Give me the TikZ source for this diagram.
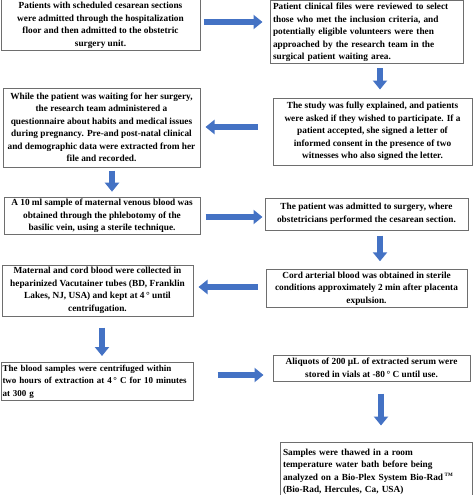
\documentclass[tikz,border=0pt]{standalone}
\usepackage{fontspec}
\setmainfont{Liberation Serif}
\usetikzlibrary{arrows.meta,calc}
\definecolor{arrowblue}{HTML}{4472C4}
\definecolor{boxline}{HTML}{6E6E6E}
\begin{document}
\begin{tikzpicture}[x=1pt,y=-1pt,
  box/.style={draw=boxline, line width=1pt, fill=white, inner sep=2pt,
    font=\fontsize{9.3}{12.5}\selectfont\bfseries, align=center},
  lbox/.style={box, align=left},
  barrow/.style={draw=arrowblue, line width=6pt,
    -{Triangle[width=14pt,length=9pt]}}]
\useasboundingbox (0,0) rectangle (474,495);
% boxes
\node[box, minimum width=199, minimum height=51] (b1) at (100.5,25.5)
 {Patients with scheduled cesarean sections\\were admitted through the hospitalization\\floor and then admitted to the obstetric\\surgery unit.};
\node[lbox, minimum width=193, minimum height=63, text width=187] (b2) at (366.5,32.5)
 {\mbox{Patient clinical files were reviewed to select}\\\mbox{those who met the inclusion criteria, and}\\\mbox{potentially eligible volunteers were then}\\\mbox{approached by the research team in the}\\\mbox{surgical patient waiting area.}};
\node[box, minimum width=199, minimum height=67] (b3) at (372.5,131.5)
 {The study was fully explained, and patients\\were asked if they wished to participate. If a\\patient accepted, she signed a letter of\\informed consent in the presence of two\\witnesses who also signed the letter.};
\node[box, minimum width=197, minimum height=79] (b4) at (101.5,127.5)
 {While the patient was waiting for her surgery,\\the research team administered a\\questionnaire about habits and medical issues\\during pregnancy. Pre-and post-natal clinical\\and demographic data were extracted from her\\file and recorded.};
\node[box, minimum width=196, minimum height=36] (b5) at (102,216)
 {A 10 ml sample of maternal venous blood was\\obtained through the phlebotomy of the\\basilic vein, using a sterile technique.};
\node[box, minimum width=203, minimum height=32] (b6) at (366.5,214)
 {The patient was admitted to surgery, where\\obstetricians performed the cesarean section.};
\node[box, minimum width=201, minimum height=37] (b7) at (366.5,288.5)
 {Cord arterial blood was obtained in sterile\\conditions approximately 2 min after placenta\\expulsion.};
\node[box, minimum width=191, minimum height=51] (b8) at (97.5,290.5)
 {Maternal and cord blood were collected in\\heparinized Vacutainer tubes (BD, Franklin\\Lakes, NJ, USA) and kept at 4\,° until\\centrifugation.};
\node[lbox, minimum width=192, minimum height=38, text width=189, inner sep=1.5pt,
  font=\fontsize{9}{12.5}\selectfont\bfseries] (b9) at (97,381.5)
 {\mbox{The blood samples were centrifuged within}\\\mbox{two hours of extraction at 4\,° C for 10 minutes}\\\mbox{at 300 g}};
\node[box, minimum width=197, minimum height=26] (b10) at (371.5,368)
 {Aliquots of 200 µL of extracted serum were\\stored in vials at -80\,° C until use.};
\node[lbox, minimum width=192, minimum height=60, text width=186] (b11) at (376,472)
 {\mbox{Samples were thawed in a room}\\\mbox{temperature water bath before being}\\\mbox{analyzed on a Bio-Plex System Bio-Rad\,\textsuperscript{\tiny TM}}\\\mbox{(Bio-Rad, Hercules, Ca, USA)}\\[4pt]};
% arrows
\draw[barrow, shorten <=3, shorten >=7] (b1.east |- 0,22) -- (b2.west |- 0,22);
\draw[barrow, shorten <=4, shorten >=8] (b2.south -| 380,0) -- (b3.north -| 380,0);
\draw[barrow, shorten <=15, shorten >=5] (b3.west |- 0,127) -- (b4.east |- 0,127);
\draw[barrow, shorten <=3, shorten >=5] (b4.south -| 112,0) -- (b5.north -| 112,0);
\draw[barrow, shorten <=5, shorten >=2] (b5.east |- 0,217) -- (b6.west |- 0,217);
\draw[barrow, shorten <=5, shorten >=8] (b6.south -| 380,0) -- (b7.north -| 380,0);
\draw[barrow, shorten <=8, shorten >=5] (b7.west |- 0,287) -- (b8.east |- 0,287);
\draw[barrow, shorten <=11, shorten >=6] (b8.south -| 102,0) -- (b9.north -| 102,0);
\draw[barrow, shorten <=24, shorten >=9] (b9.east |- 0,375) -- (b10.west |- 0,375);
\draw[barrow, shorten <=12, shorten >=16] (b10.south -| 381,0) -- (b11.north -| 381,0);
\end{tikzpicture}
\end{document}
